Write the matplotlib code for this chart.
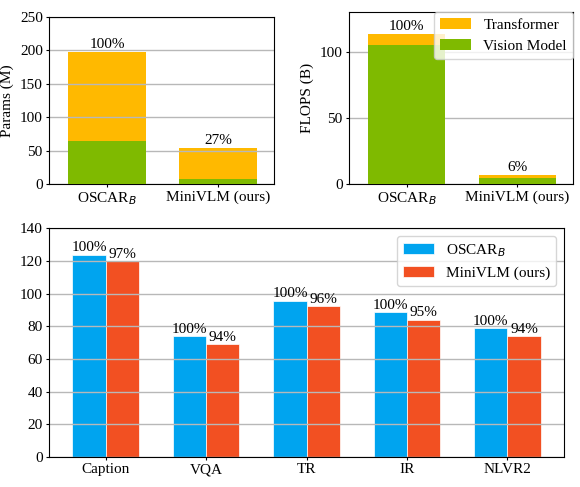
import numpy as np
import matplotlib
matplotlib.use('Agg')
import matplotlib.pyplot as plt

plt.rcParams['font.family'] = ['Liberation Serif', 'DejaVu Serif']
plt.rcParams['font.size'] = 11
plt.rcParams['mathtext.fontset'] = 'dejavusans'
plt.rcParams['xtick.major.size'] = 2.5
plt.rcParams['ytick.major.size'] = 2.5
plt.rcParams['xtick.major.pad'] = 2
plt.rcParams['ytick.major.pad'] = 2

# colours (Microsoft palette)
c_trans = '#FFB900'
c_vis = '#7FBA00'
c_blue = '#00A4EF'
c_red = '#F25022'

models = ['OSCAR$_B$', 'MiniVLM (ours)']

# params (M)
params_vision = [64, 7]
params_trans = [134, 46.5]

# flops (B)
flops_vision = [105, 4.4]
flops_trans = [8.4, 2.3]

# downstream tasks
tasks = ['Caption', 'VQA', 'TR', 'IR', 'NLVR2']
oscar_scores = [123.7, 73.8, 95.7, 88.4, 78.7]
mini_scores = [119.8, 69.1, 92.1, 84.1, 73.8]

fig = plt.figure(figsize=(5.8, 4.87), dpi=100)
ax1 = fig.add_axes([0.0845, 0.6222, 0.388, 0.343])
ax2 = fig.add_axes([0.6017, 0.6222, 0.386, 0.3533])
ax3 = fig.add_axes([0.0845, 0.0616, 0.888, 0.470])


def stacked(ax, vis, trans, ylim, yticks, ylabel):
    x = np.arange(len(models))
    tot = np.array(vis) + np.array(trans)
    ax.bar(x, tot, 0.7, color=c_trans, label='Transformer', zorder=1)
    ax.bar(x, vis, 0.7, color=c_vis, label='Vision Model', zorder=3)
    ax.yaxis.grid(True, color='#b8b8b8', linewidth=1, zorder=2)
    for xi, t in zip(x, tot):
        ax.text(xi, t + ylim * 0.005, '%d%%' % round(100 * t / tot[0]),
                ha='center', va='bottom')
    ax.set_xticks(x)
    ax.set_xticklabels(models)
    ax.set_xlim(-0.52, 1.5)
    ax.set_ylim(0, ylim)
    ax.set_yticks(yticks)
    ax.set_ylabel(ylabel, labelpad=4)


stacked(ax1, params_vision, params_trans, 250, [0, 50, 100, 150, 200, 250], 'Params (M)')
stacked(ax2, flops_vision, flops_trans, 130, [0, 50, 100], 'FLOPS (B)')
ax2.legend(loc='upper right', borderaxespad=0, fontsize=11)

x = np.arange(len(tasks))
w = 0.33
ax3.bar(x - w / 2, oscar_scores, w, color=c_blue, edgecolor='white', linewidth=0.5, label='OSCAR$_B$')
ax3.bar(x + w / 2, mini_scores, w, color=c_red, edgecolor='white', linewidth=0.5, label='MiniVLM (ours)')
ax3.yaxis.grid(True, color='#b8b8b8', linewidth=1)
for xi, a, b in zip(x, oscar_scores, mini_scores):
    ax3.text(xi - w / 2, a + 0.3, '100%', ha='center', va='bottom')
    ax3.text(xi + w / 2, b + 0.3, '%d%%' % round(100 * b / a), ha='center', va='bottom')
ax3.set_xticks(x)
ax3.set_xticklabels(tasks)
ax3.set_ylim(0, 140)
ax3.set_yticks(range(0, 141, 20))
ax3.legend(loc='upper right', fontsize=11)

fig.savefig('out.png', dpi=100)
